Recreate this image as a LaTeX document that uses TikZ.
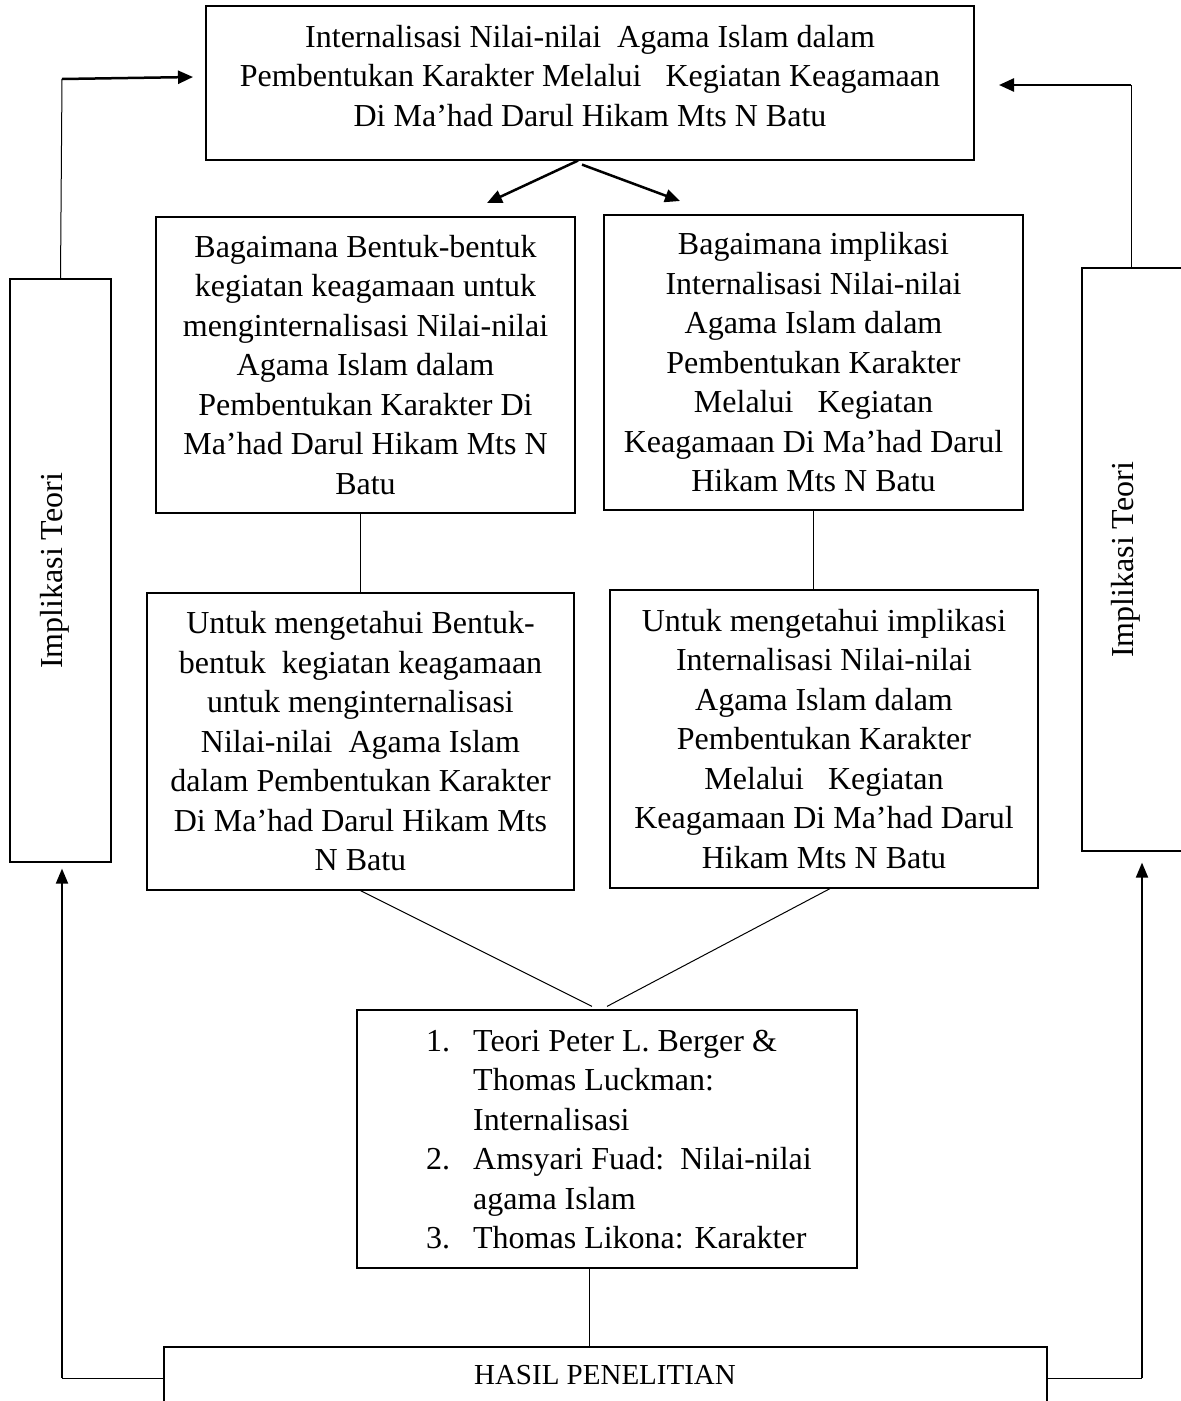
\documentclass[tikz,border=0pt]{standalone}
\usepackage{fontspec}
\setmainfont{Liberation Serif}
\usetikzlibrary{arrows.meta}
\begin{document}
\begin{tikzpicture}[x=1pt,y=-1pt,
  frame/.style={draw, line width=1.2pt, inner sep=0pt},
  txt/.style={inner sep=0pt, align=center, font=\fontsize{32}{39.5}\selectfont},
  boxt/.style={frame, align=center, font=\fontsize{32}{39.5}\selectfont},
  thin line/.style={line width=1pt},
  bold arrow/.style={line width=2.5pt, -{Triangle[length=15pt,width=13pt]}},
  side arrow/.style={line width=2pt, -{Triangle[length=15pt,width=12pt]}}
]
\useasboundingbox (0,0) rectangle (1181,1401);

% top box
\node[frame, minimum width=768pt, minimum height=154pt] (top) at (590,83) {};
\node[txt] (toptext) at (590,76) {Internalisasi Nilai-nilai\ \ Agama Islam dalam\\
Pembentukan Karakter Melalui\ \ \ Kegiatan Keagamaan\\
Di Ma’had Darul Hikam Mts N Batu};

% question boxes
\node[boxt, minimum width=419pt, minimum height=296pt] (q1) at (365.5,365) {Bagaimana Bentuk-bentuk\\
kegiatan keagamaan untuk\\
menginternalisasi Nilai-nilai\\
Agama Islam dalam\\
Pembentukan Karakter Di\\
Ma’had Darul Hikam Mts N\\
Batu};
\node[boxt, minimum width=419pt, minimum height=295pt] (q2) at (813.5,362.5) {Bagaimana implikasi\\
Internalisasi Nilai-nilai\\
Agama Islam dalam\\
Pembentukan Karakter\\
Melalui\ \ \ Kegiatan\\
Keagamaan Di Ma’had Darul\\
Hikam Mts N Batu};

% objective boxes
\node[boxt, minimum width=427pt, minimum height=297pt] (o1) at (360.5,741.5) {Untuk mengetahui Bentuk-\\
bentuk\ \ kegiatan keagamaan\\
untuk menginternalisasi\\
Nilai-nilai\ \ Agama Islam\\
dalam Pembentukan Karakter\\
Di Ma’had Darul Hikam Mts\\
N Batu};
\node[boxt, minimum width=428pt, minimum height=298pt] (o2) at (824,739) {Untuk mengetahui implikasi\\
Internalisasi Nilai-nilai\\
Agama Islam dalam\\
Pembentukan Karakter\\
Melalui\ \ \ Kegiatan\\
Keagamaan Di Ma’had Darul\\
Hikam Mts N Batu};

% theory box
\node[frame, minimum width=500pt, minimum height=258pt] (th) at (607,1139) {};
\node[txt, align=left, anchor=west] (thtext) at (426,1139.5) {\makebox[47pt][l]{1.}Teori Peter L. Berger \&\\
\hspace*{47pt}Thomas Luckman:\\
\hspace*{47pt}Internalisasi\\
\makebox[47pt][l]{2.}Amsyari Fuad:\ \ Nilai-nilai\\
\hspace*{47pt}agama Islam\\
\makebox[47pt][l]{3.}Thomas Likona: Karakter};

% result box
\node[frame, minimum width=883pt, minimum height=80pt] (res) at (605.5,1387) {};
\node[txt, font=\fontsize{29}{33}\selectfont] (restext) at (605,1375) {HASIL PENELITIAN};

% side boxes
\node[frame, minimum width=101pt, minimum height=583pt] (lbox) at (60.5,570.5) {};
\node[txt, rotate=90] (ltext) at (55,571) {Implikasi Teori};
\node[frame, minimum width=101pt, minimum height=583pt] (rbox) at (1132.5,559.5) {};
\node[txt, rotate=90] (rtext) at (1126,560) {Implikasi Teori};

% top feedback arrows
\coordinate (lbend) at (62,79);
\coordinate (ltip) at (193,77);
\draw[thin line] (lbox.north) -- (lbend);
\draw[bold arrow] (lbend) -- (ltip);
\coordinate (rbend) at (1131,85);
\coordinate (rtip) at (999,85);
\draw[thin line] (rbox.north -| rbend) -- (rbend);
\draw[bold arrow] (rbend) -- (rtip);

% top box to questions
\coordinate (qtipL) at (487,203);
\coordinate (qtipR) at (680,201);
\draw[bold arrow] ([xshift=-12pt]top.south) -- (qtipL);
\draw[bold arrow] ([xshift=-8pt,yshift=-4pt]top.south) -- (qtipR);

% questions to objectives
\draw[thin line] (o1.north |- q1.south) -- (o1.north);
\draw[thin line] (q2.south) -- (q2.south |- o2.north);

% objectives to theory
\draw[thin line] (o1.south) -- ([xshift=-15pt,yshift=3pt]th.north);
\draw[thin line] ([xshift=6pt]o2.south) -- ([yshift=3pt]th.north);

% theory to result
\coordinate (thdown) at ([xshift=-18pt]th.south);
\draw[thin line] (thdown) -- (thdown |- res.north);

% bottom feedback arrows
\coordinate (lcorner) at (62,1378);
\coordinate (lb) at ([yshift=-6pt]lbox.south);
\draw[thin line] (lcorner -| res.west) -- (lcorner);
\draw[side arrow] (lcorner) -- (lcorner |- lb);
\coordinate (rcorner) at (1142,1378);
\coordinate (rb) at ([yshift=-11pt]rbox.south);
\draw[thin line] (lcorner -| res.east) -- (rcorner);
\draw[side arrow] (rcorner) -- (rcorner |- rb);
\end{tikzpicture}
\end{document}
